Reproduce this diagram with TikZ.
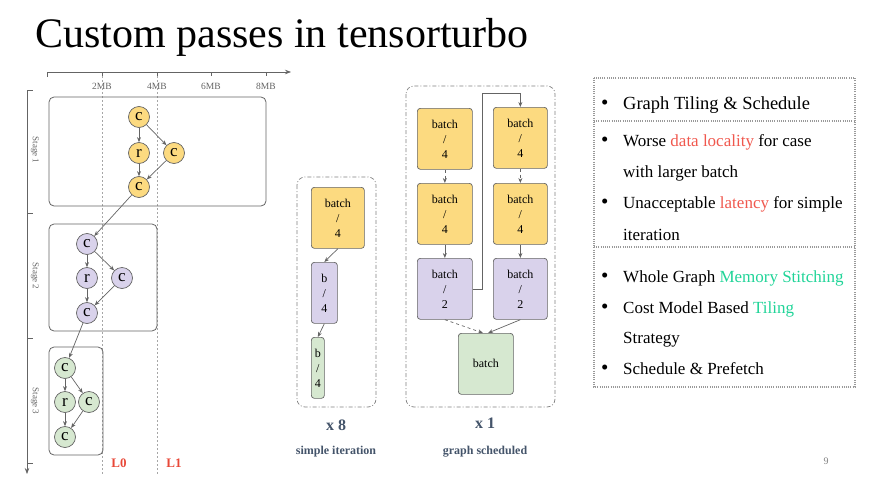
\documentclass[tikz,border=0pt]{standalone}
\usepackage{fontspec}
\setmainfont{Liberation Serif}
\usetikzlibrary{arrows.meta}
\definecolor{yel}{RGB}{252,218,128}
\definecolor{pur}{RGB}{217,210,235}
\definecolor{grn}{RGB}{214,232,208}
\definecolor{edge}{RGB}{100,100,100}
\definecolor{redL}{RGB}{232,72,56}
\definecolor{redT}{RGB}{240,88,78}
\definecolor{tealg}{RGB}{32,212,152}
\definecolor{slate}{RGB}{68,84,106}
\begin{document}
\begin{tikzpicture}[x=1pt,y=-1pt,
 circ/.style={circle,draw=edge,line width=0.7pt,minimum size=21pt,inner sep=0pt,font=\fontsize{17}{17}\selectfont},
 cy/.style={circ,fill=yel}, cp/.style={circ,fill=pur}, cg/.style={circ,fill=grn},
 stagebox/.style={draw=edge,rounded corners=5pt,line width=0.8pt},
 arr/.style={-{Stealth[length=5pt,width=4pt]},draw=edge,line width=0.7pt},
 bbox/.style={draw=edge,rounded corners=3pt,line width=0.7pt,align=center,font=\fontsize{12}{15}\selectfont,inner sep=0pt,anchor=north west},
 guide/.style={draw=gray!70,line width=0.5pt,dash pattern=on 2pt off 2pt},
 dd/.style={draw=gray,line width=0.7pt,rounded corners=8pt,dash pattern=on 4pt off 2pt on 1pt off 2pt},
 panel/.style={draw=gray!80,line width=1.2pt,dash pattern=on 1pt off 1.2pt},
 axis/.style={draw=edge,line width=0.7pt},
 small/.style={font=\fontsize{9.5}{10}\selectfont,text=edge},
 ptxt/.style={anchor=base west,inner sep=0pt,font=\fontsize{17}{17}\selectfont},
 bul/.style={anchor=base west,inner sep=0pt,font=\fontsize{21}{21}\selectfont},
 captxt/.style={font=\bfseries\fontsize{12}{12}\selectfont,text=slate},
 mult/.style={font=\bfseries\fontsize{16}{16}\selectfont,text=slate},
]
\useasboundingbox (0,0) rectangle (889,482);
% title
\node[anchor=base west,inner sep=0pt,font=\fontsize{42}{42}\selectfont] (title) at (35,47) {Custom passes in tensorturbo};

% axes
\coordinate (ax0) at (47,72); \coordinate (ax1) at (291,72);
\draw[axis,-{Stealth[length=6pt,width=4.5pt]}] (ax0) -- (ax1);
\draw[axis] (47,72) -- (47,77);
\foreach \x/\t in {102/2MB,157/4MB,211/6MB,266/8MB}{
  \draw[axis] (\x,72) -- (\x,76);
  \node[small] at (\x,86) {\t};
}
\coordinate (ay0) at (27,90); \coordinate (ay1) at (27,474);
\draw[axis,-{Stealth[length=6pt,width=4.5pt]}] (ay0) -- (ay1);
\foreach \y in {90,213,338,463}{ \draw[axis] (27,\y) -- (33,\y); }
\node[small,rotate=-90,font=\fontsize{9}{9}\selectfont] at (35,150) {Stage 1};
\node[small,rotate=-90,font=\fontsize{9}{9}\selectfont] at (35,276) {Stage 2};
\node[small,rotate=-90,font=\fontsize{9}{9}\selectfont] at (35,401) {Stage 3};

% guides
\draw[guide] (102,76) -- (102,474);
\draw[guide] (157,76) -- (157,474);
\node[font=\bfseries\fontsize{13}{13}\selectfont,text=redL] (L0) at (119,463) {L0};
\node[font=\bfseries\fontsize{13}{13}\selectfont,text=redL] (L1) at (174,463) {L1};

% stage boxes
\draw[stagebox] (49,97) rectangle (266,206);
\draw[stagebox] (49,224) rectangle (157,331);
\draw[stagebox] (49,347) rectangle (103,455);

% stage 1
\node[cy] (a1) at (139,117) {c};
\node[cy] (a2) at (139,153) {r};
\node[cy] (a3) at (174,153) {c};
\node[cy] (a4) at (139,187) {c};
% stage 2
\node[cp] (b1) at (87,244) {c};
\node[cp] (b2) at (87,278) {r};
\node[cp] (b3) at (122,278) {c};
\node[cp] (b4) at (87,313) {c};
% stage 3
\node[cg] (c1) at (65,368) {c};
\node[cg] (c2) at (65,402) {r};
\node[cg] (c3) at (89,402) {c};
\node[cg] (c4) at (65,437) {c};
\foreach \p in {a,b,c}{
  \draw[arr] (\p1) -- (\p2);
  \draw[arr] (\p1) -- (\p3);
  \draw[arr] (\p2) -- (\p4);
  \draw[arr] (\p3) -- (\p4);
}
\draw[arr] (a4) -- (b1);
\draw[arr] (b4) -- (c1);

% simple iteration
\draw[dd] (297,177) rectangle (376,407);
\node[bbox,fill=yel,minimum width=53pt,minimum height=61pt] (s1) at (311,187) {batch\\/\\4};
\node[bbox,fill=pur,minimum width=26pt,minimum height=61pt] (s2) at (311,262) {b\\/\\4};
\node[bbox,fill=grn,minimum width=13pt,minimum height=61pt] (s3) at (311,337) {b\\/\\4};
\draw[arr] (s1.south) -- (s2.north);
\draw[arr] (s2.south) -- (s3.north);
\node[mult] (x8) at (336,425) {x 8};
\node[captxt] (si) at (336,452) {simple iteration};

% graph scheduled
\draw[dd] (406,86) rectangle (555,407);
\node[bbox,fill=yel,minimum width=55pt,minimum height=61pt] (l1) at (417,108) {batch\\/\\4};
\node[bbox,fill=yel,minimum width=55pt,minimum height=61pt] (l2) at (417,183) {batch\\/\\4};
\node[bbox,fill=pur,minimum width=55pt,minimum height=61pt] (l3) at (417,258) {batch\\/\\2};
\node[bbox,fill=yel,minimum width=54pt,minimum height=61pt] (r1) at (493,107) {batch\\/\\4};
\node[bbox,fill=yel,minimum width=54pt,minimum height=61pt] (r2) at (493,183) {batch\\/\\4};
\node[bbox,fill=pur,minimum width=54pt,minimum height=61pt] (r3) at (493,258) {batch\\/\\2};
\node[bbox,fill=grn,minimum width=55pt,minimum height=61pt] (g) at (458,333) {batch};
\draw[arr,dashed] (l1.south) -- (l2.north);
\draw[arr] (l2.south) -- (l3.north);
\draw[arr,dashed] (r1.south) -- (r2.north);
\draw[arr] (r2.south) -- (r3.north);
\coordinate (k1) at (482,93);
\draw[arr] (l3.east) -| (k1) -| (r1.north);
\coordinate (gin1) at (483,333);
\coordinate (gin2) at (488,333);
\draw[arr,dashed] (l3.south) -- (gin1);
\draw[arr] (r3.south) -- (gin2);
\node[mult] (x1) at (485,423) {x 1};
\node[captxt] (gs) at (485,452) {graph scheduled};

% right panel
\draw[panel] (594,78) rectangle (855,387);
\draw[panel] (594,121) -- (855,121);
\draw[panel] (594,247) -- (855,247);
\foreach \y in {109,146,208,282,313,374}{ \node[bul] at (601,\y) {•}; }
\node[ptxt,font=\fontsize{18.5}{18.5}\selectfont] (t1) at (623,109) {Graph Tiling \& Schedule};
\node[ptxt] (t2) at (623,146) {Worse \textcolor{redT}{data locality} for case};
\node[ptxt] (t3) at (623,177) {with larger batch};
\node[ptxt] (t4) at (623,208) {Unacceptable \textcolor{redT}{latency} for simple};
\node[ptxt] (t5) at (623,240) {iteration};
\node[ptxt] (t6) at (623,282) {Whole Graph \textcolor{tealg}{Memory Stitching}};
\node[ptxt] (t7) at (623,313) {Cost Model Based \textcolor{tealg}{Tiling}};
\node[ptxt] (t8) at (623,343) {Strategy};
\node[ptxt] (t9) at (623,374) {Schedule \& Prefetch};

\node[font=\fontsize{10}{10}\selectfont,text=gray] (pg) at (826,461) {9};
\end{tikzpicture}
\end{document}
